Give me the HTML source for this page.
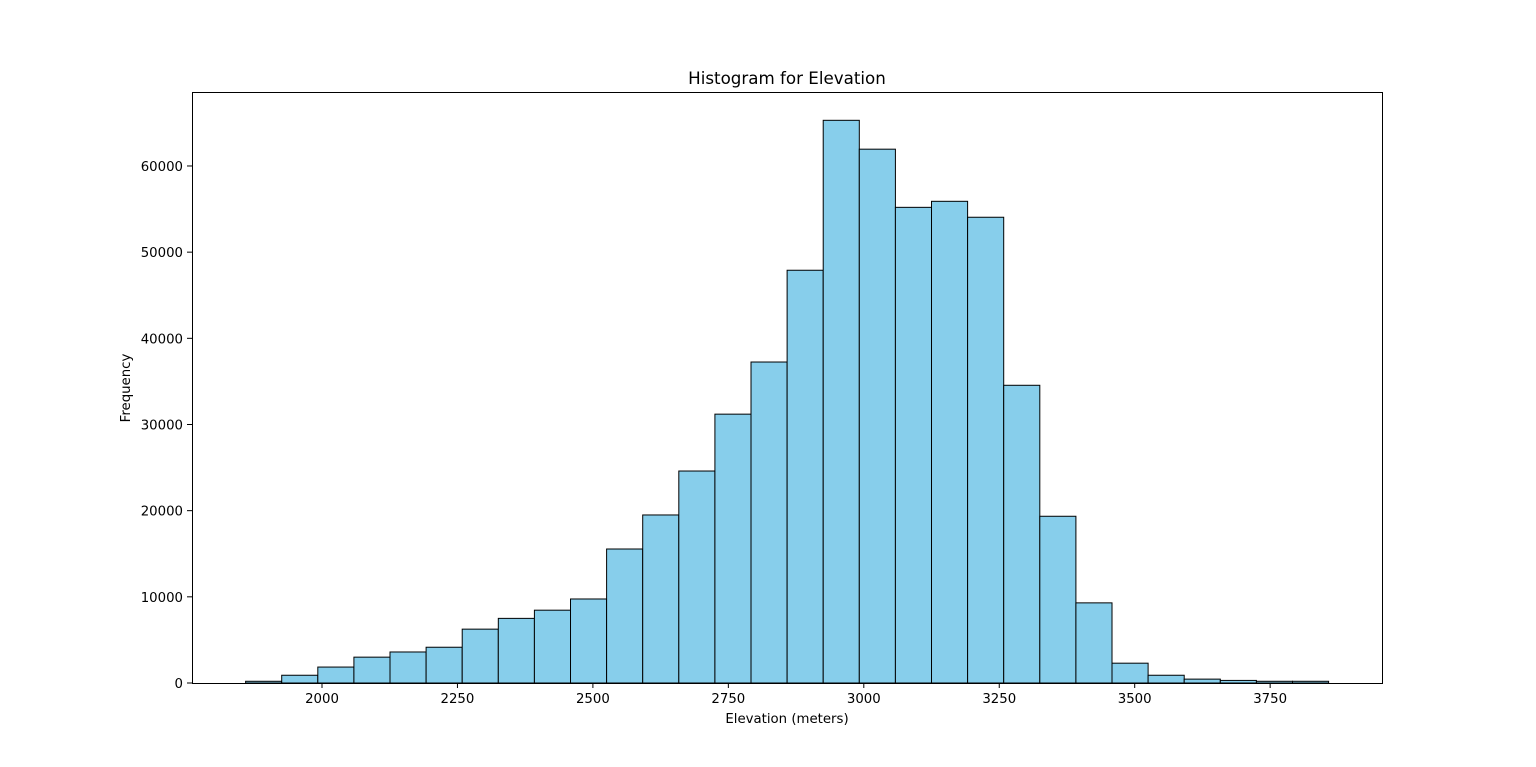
<!DOCTYPE html>
<html><head><meta charset="utf-8"><style>
html,body{margin:0;padding:0;background:#fff;}
svg{display:block;font-family:"DejaVu Sans","Liberation Sans",sans-serif;}
</style></head><body>
<svg id="chart" width="1536" height="767" viewBox="0 0 1536 767" xmlns="http://www.w3.org/2000/svg">
<rect width="1536" height="767" fill="#fff"/>
<text x="787" y="84" text-anchor="middle" font-size="16.7">Histogram for Elevation</text>
<g id="bars"></g>
<g id="xticks"></g>
<g id="yticks"></g>
<rect x="192.5" y="92.5" width="1190" height="591" fill="none" stroke="#000" stroke-width="1"/>
<text x="787" y="723" text-anchor="middle" font-size="13.3">Elevation (meters)</text>
<text transform="translate(130,388) rotate(-90)" text-anchor="middle" font-size="13.3">Frequency</text>
</svg>
<script>
const binStart = 1859;
const binWidth = 66.63;
const counts = [200,900,1850,3000,3600,4150,6250,7500,8450,9750,15550,19500,24600,31200,37250,47900,65300,61950,55200,55900,54050,34550,19350,9300,2300,900,450,300,200,200];
const xTickValues = [2000,2250,2500,2750,3000,3250,3500,3750];
const yTickValues = [0,10000,20000,30000,40000,50000,60000];

const NS = "http://www.w3.org/2000/svg";
function xScale(v){ return 322 + (v - 2000) * 0.5418; }
function yScale(v){ return 683 - v * 0.008617; }

const barsG = document.getElementById('bars');
counts.forEach((c,i)=>{
  const x0 = xScale(binStart + i*binWidth), x1 = xScale(binStart + (i+1)*binWidth);
  const r = document.createElementNS(NS,'rect');
  r.setAttribute('x', x0); r.setAttribute('width', x1 - x0);
  r.setAttribute('y', yScale(c)); r.setAttribute('height', yScale(0) - yScale(c));
  r.setAttribute('fill', '#87ceeb'); r.setAttribute('stroke', '#000'); r.setAttribute('stroke-width', '1');
  
  
  barsG.appendChild(r);
});
const xg = document.getElementById('xticks');
xTickValues.forEach(v=>{
  const x = xScale(v);
  const l = document.createElementNS(NS,'line');
  l.setAttribute('x1', x); l.setAttribute('x2', x); l.setAttribute('y1', 683); l.setAttribute('y2', 688);
  l.setAttribute('stroke', '#000');
  
  
  xg.appendChild(l);
  const t = document.createElementNS(NS,'text');
  t.setAttribute('x', x); t.setAttribute('y', 703); t.setAttribute('text-anchor', 'middle'); t.setAttribute('font-size', '13.3');
  t.textContent = v;
  
  
  xg.appendChild(t);
});
const yg = document.getElementById('yticks');
yTickValues.forEach(v=>{
  const y = yScale(v);
  const l = document.createElementNS(NS,'line');
  l.setAttribute('x1', 187); l.setAttribute('x2', 192); l.setAttribute('y1', y); l.setAttribute('y2', y);
  l.setAttribute('stroke', '#000');
  
  
  yg.appendChild(l);
  const t = document.createElementNS(NS,'text');
  t.setAttribute('x', 183); t.setAttribute('y', y + 5); t.setAttribute('text-anchor', 'end'); t.setAttribute('font-size', '13.3');
  t.textContent = v;
  
  
  yg.appendChild(t);
});
</script>
</body></html>
